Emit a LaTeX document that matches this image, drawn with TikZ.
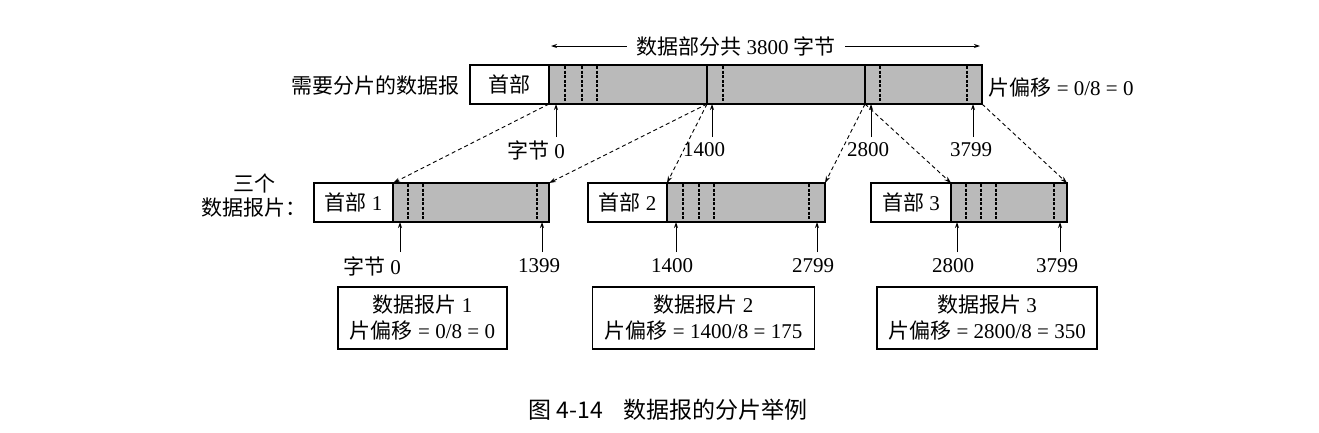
\documentclass[tikz,border=0pt]{standalone}
\usepackage{fontspec}
\setmainfont{Liberation Serif}
\newfontfamily\cjk{Noto Sans CJK SC}
\newcommand{\zh}[1]{{\cjk #1}}
\usetikzlibrary{arrows.meta}

\tikzset{
  hdbox/.style={draw, line width=1.2pt, fill=white, minimum height=39pt, inner sep=0pt, outer sep=0pt},
  databox/.style={draw, line width=1.2pt, fill=black!27, minimum height=39pt, inner sep=0pt, outer sep=0pt},
  cutline/.style={line width=1.3pt, dash pattern=on 3pt off 1.6pt},
  segline/.style={line width=1.4pt},
  uparrow/.style={line width=1pt, -{Stealth[length=6pt,width=4pt]}},
  movearrow/.style={line width=0.9pt, dash pattern=on 4pt off 3pt, -{Stealth[length=7pt,width=4.5pt]}},
  spanarrow/.style={line width=0.9pt, -{Stealth[length=6pt,width=4pt]}},
  infobox/.style={draw, line width=1.2pt, minimum height=62pt, inner sep=0pt, align=center,
    font=\fontsize{21}{26}\selectfont},
}

\begin{document}
\begin{tikzpicture}[x=1pt,y=-1pt,font=\fontsize{21}{24}\selectfont]
\useasboundingbox (0,0) rectangle (1319,432);

% datagram to be fragmented
\node[hdbox, minimum width=79pt, line width=1.6pt] (hd) at (509.5,84.5) {\zh{首部}};
\node[databox, minimum width=433pt, line width=1.6pt] (dat) at (765.5,84.5) {};
\foreach \x in {565,582,597,723,880,967}
  \draw[cutline] (\x,66) -- (\x,103);
\draw[segline] (707,65) -- (707,104);
\draw[segline] (865,65) -- (865,104);
\coordinate (b1400) at (707,104);
\coordinate (b2800) at (865,104);

\node (total) at (736,46) {\zh{数据部分共} 3800 \zh{字节}};
\coordinate (lend) at (551,46);
\coordinate (rend) at (980,46);
\draw[spanarrow, shorten <=6pt] (total) -- (lend);
\draw[spanarrow, shorten <=6pt] (total) -- (rend);

\node[anchor=east] (need) at (463,86) {\zh{需要分片的数据报}};
\node[anchor=west] (off0) at (985,88) {\zh{片偏移} = 0/8 = 0};

% byte marks, top
\coordinate (t0) at (556,137);
\coordinate (t1) at (712,137);
\coordinate (t2) at (871,137);
\coordinate (t3) at (973,137);
\foreach \c in {t0,t1,t2,t3}
  \draw[uparrow] (\c) -- (\c |- dat.south);
\node (lt0) at (536,150) {\zh{字节} 0};
\node (lt1) at (704,150) {1400};
\node (lt2) at (868,150) {2800};
\node (lt3) at (971,150) {3799};

% the three fragments
\node[align=center] (three) at (254,196) {\zh{三个}\\\zh{数据报片：}};

\node[hdbox, minimum width=79pt] (h1) at (353.5,202.5) {\zh{首部} 1};
\node[databox, minimum width=156pt] (d1) at (471,202.5) {};
\node[hdbox, minimum width=79pt] (h2) at (627.5,202.5) {\zh{首部} 2};
\node[databox, minimum width=158pt] (d2) at (746,202.5) {};
\node[hdbox, minimum width=80pt] (h3) at (911,202.5) {\zh{首部} 3};
\node[databox, minimum width=116pt] (d3) at (1009,202.5) {};
\foreach \x in {408,423,537,683,699,714,809,966,981,996,1054}
  \draw[cutline] (\x,184) -- (\x,221);

\draw[movearrow] (dat.south west) -- (d1.north west);
\draw[movearrow] (b1400) -- (d1.north east);
\draw[movearrow] (b1400) -- (d2.north west);
\draw[movearrow] (b2800) -- (d2.north east);
\draw[movearrow] (b2800) -- (d3.north west);
\draw[movearrow] (dat.south east) -- (d3.north east);

% byte marks, fragments
\coordinate (f0) at (400,252);
\coordinate (f1) at (542,252);
\coordinate (f2) at (676,252);
\coordinate (f3) at (817,252);
\coordinate (f4) at (957,252);
\coordinate (f5) at (1060,252);
\foreach \c in {f0,f1,f2,f3,f4,f5}
  \draw[uparrow] (\c) -- (\c |- d1.south);
\node (lf0) at (372,266) {\zh{字节} 0};
\node (lf1) at (539,266) {1399};
\node (lf2) at (672,266) {1400};
\node (lf3) at (813,266) {2799};
\node (lf4) at (953,266) {2800};
\node (lf5) at (1057,266) {3799};

% offsets
\node[infobox, minimum width=169pt] (i1) at (422.5,318) {\zh{数据报片} 1\\\zh{片偏移} = 0/8 = 0};
\node[infobox, minimum width=222pt] (i2) at (703.5,318) {\zh{数据报片} 2\\\zh{片偏移} = 1400/8 = 175};
\node[infobox, minimum width=220pt] (i3) at (987,318) {\zh{数据报片} 3\\\zh{片偏移} = 2800/8 = 350};

\node (cap) at (668,410) {\fontsize{23}{26}\selectfont\zh{图 4-14}\hspace{20pt}\zh{数据报的分片举例}};
\end{tikzpicture}
\end{document}
